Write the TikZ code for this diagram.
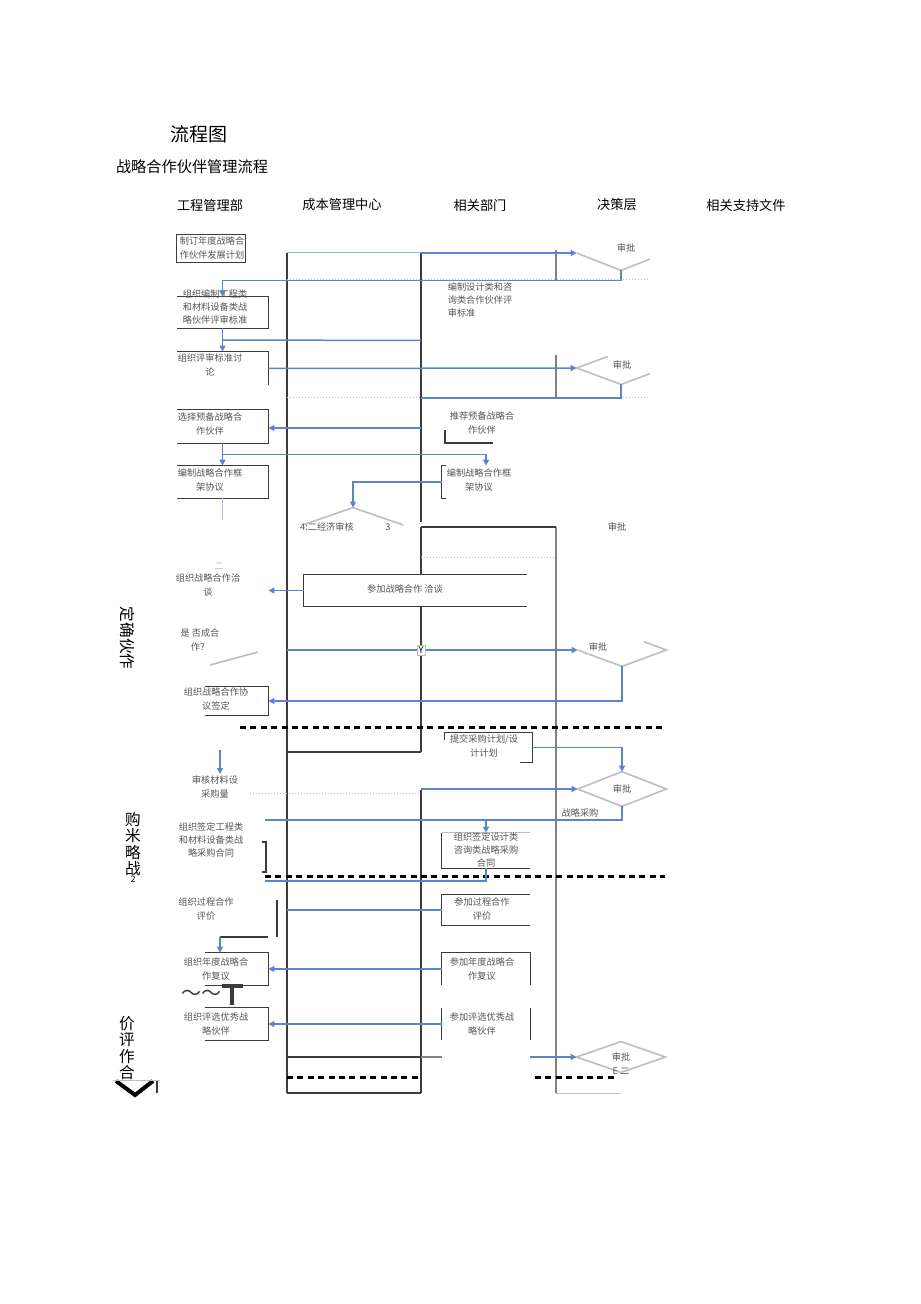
\documentclass[tikz,border=0pt]{standalone}
\usepackage{fontspec}
\setmainfont{Noto Sans CJK SC}
\usetikzlibrary{arrows.meta,shapes.geometric,calc}
\definecolor{fb}{RGB}{92,132,200}
\definecolor{dk}{RGB}{60,60,60}
\definecolor{lg}{RGB}{190,190,190}
\definecolor{tx}{RGB}{85,85,85}
\tikzset{
 lbl/.style={font=\fontsize{4.6}{6.7}\selectfont, text=tx, align=center, inner sep=0pt},
 hdr/.style={font=\fontsize{6.6}{8}\selectfont, inner sep=0pt},
 bx/.style 2 args={rectangle, inner sep=0pt, draw=none, minimum width=#1*0.5pt, minimum height=#2*0.5pt},
 edge/.style={draw=dk, line width=0.6pt},
 lane/.style={draw=dk, line width=0.55pt},
 glane/.style={draw=gray, line width=0.8pt},
 flow/.style={draw=fb, line width=0.75pt, -{Triangle[length=3pt,width=3pt]}},
 fline/.style={draw=fb, line width=0.75pt},
 dia/.style 2 args={diamond, inner sep=0pt, minimum width=#1*0.5pt, minimum height=#2*0.5pt, font=\fontsize{4.6}{6}\selectfont, text=tx},
 dedge/.style={draw=lg, line width=0.8pt},
 bigdash/.style={draw=black, line width=1.5pt, dash pattern=on 3pt off 2.2pt},
 vlab/.style={font=\fontsize{7.8}{8.3}\selectfont, align=center, inner sep=0pt},
 faint/.style={draw=lg, line width=0.5pt},
}
\begin{document}
\begin{tikzpicture}[x=0.5pt,y=-0.5pt]
\useasboundingbox[fill=white] (0,0) rectangle (920,1304);

% titles
\node[font=\fontsize{9.5}{11}\selectfont, inner sep=0pt] (title) at (199,134) {流程图};
\node[font=\fontsize{7.6}{9}\selectfont, inner sep=0pt] (sub) at (192,167) {战略合作伙伴管理流程};
\node[hdr] (h1) at (210,205) {工程管理部};
\node[hdr] (h2) at (342,205) {成本管理中心};
\node[hdr] (h3) at (480,205) {相关部门};
\node[hdr] (h4) at (617,205) {决策层};
\node[hdr] (h5) at (746,205) {相关支持文件};

% lane labels
\node[vlab, rotate=-90] (lv1) at (127,638) {定确伙作};
\node[vlab] (lv2) at (133,844) {购\\米\\略\\战};
\node[font=\fontsize{4.5}{5}\selectfont, inner sep=0pt] (lv2n) at (133,879) {2};
\node[vlab] (lv3) at (127,1048) {价\\评\\作\\合};
\draw[line width=2pt] (116,1081) -- (135,1095) -- (153,1081);
\draw[faint] (113,1080) -- (160,1080);
\draw[lane] (157,1081) -- (157,1093);

% lanes
\draw[lane] (287,253) -- (287,1093);
\draw[lane] (421,253) -- (421,522);
\draw[lane] (421,527) -- (421,575);
\draw[lane] (421,606) -- (421,752);
\draw[lane] (421,790) -- (421,1093);
\draw[lane] (287,1057) -- (421,1057);
\draw[lane] (287,1093) -- (421,1093);
\draw[glane] (556,527) -- (556,1093);
\draw[glane] (556,250) -- (556,280);
\draw[glane] (556,355) -- (556,398);
\draw[draw=fb!60, line width=0.5pt] (287,253) -- (421,253);
\draw[lane] (421,527) -- (556,527);
\draw[faint, densely dotted] (421,557) -- (556,557);
\draw[faint, densely dotted] (287,280) -- (650,280);
\draw[faint, densely dotted] (287,398) -- (650,398);

% thick dashed separators
\draw[bigdash] (240,727) -- (665,727);
\draw[bigdash] (265,876) -- (665,876);
\draw[bigdash] (287,1077) -- (421,1077);
\draw[bigdash] (535,1077) -- (618,1077);
\draw[faint] (556,1093) -- (620,1093);

% left boxes
\node[bx={68}{27}] (L1) at (211,248.5) {};
\draw[edge] (L1.north west) rectangle (L1.south east);
\node[lbl] (t1) at (212,248) {制订年度战略合\\作伙伴发展计划};

\node[bx={91}{31}] (L2) at (222.5,312.5) {};
\draw[edge] (L2.north west) -- (L2.north east) -- (L2.south east) -- (L2.south west);
\node[lbl, align=left] (t2) at (215,307) {组织编制工程类\\和材料设备类战\\略伙伴评审标准};

\node[bx={91}{33}] (L3) at (222.5,368.5) {};
\draw[edge] (L3.north west) -- (L3.north east) -- (L3.south east);
\node[lbl] (t3) at (210,365) {组织评审标准讨\\论};

\node[bx={91}{33}] (L4) at (222.5,426.5) {};
\draw[edge] (L4.north west) -- (L4.north east) -- (L4.south east) -- (L4.south west);
\node[lbl] (t4) at (210,424) {选择预备战略合\\作伙伴};

\node[bx={91}{32}] (L5) at (222.5,482) {};
\draw[edge] (L5.north west) -- (L5.north east) -- (L5.south east) -- (L5.south west);
\node[lbl] (t5) at (210,480) {编制战略合作框\\架协议};

\node[lbl, text=lg] (t6a) at (219,566) {二};
\node[lbl] (t6) at (208,585) {组织战略合作洽\\谈};

\node[lbl] (t7) at (200,640) {是 否成合\\作？};
\draw[dedge] (210,665) -- (258,652);

\node[bx={63}{28}] (L8) at (236.5,701) {};
\draw[edge] (L8.north west) -- (L8.north east) -- (L8.south east) -- (L8.south west);
\node[lbl] (t8) at (216,699) {组织战略合作协\\议签定};

\node[lbl] (t9) at (215,787) {审核材料设\\采购量};
\draw[faint, densely dotted] (250,793) -- (421,793);

\node[lbl] (t10) at (211,840) {组织签定工程类\\和材料设备类战\\略采购合同};
\draw[edge] (262,842) -- (266,842) -- (266,872) -- (262,872);

\node[lbl] (t11) at (206,909) {组织过程合作\\评价};
\draw[edge] (277,900) -- (277,937);
\draw[edge] (220,937) -- (268,937);

\node[bx={63}{32}] (L12) at (236.5,969) {};
\draw[edge] (L12.north west) -- (L12.north east) -- (L12.south east) -- (L12.south west);
\node[lbl] (t12) at (216,969) {组织年度战略合\\作复议};
\node[font=\fontsize{10}{10}\selectfont, text=dk, inner sep=0pt] (tilde) at (201,995) {～～};
\draw[draw=dk, line width=1.6pt] (222,986) -- (243,986);
\draw[draw=dk, line width=1.6pt] (232,986) -- (232,1005);

\node[bx={63}{32}] (L13) at (236.5,1024) {};
\draw[edge] (L13.north west) -- (L13.north east) -- (L13.south east) -- (L13.south west);
\node[lbl] (t13) at (216,1024) {组织评选优秀战\\略伙伴};

% right boxes
\node[lbl, align=left] (r1) at (480,300) {编制设计类和咨\\询类合作伙伴评\\审标准};

\node[lbl] (r2) at (482,423) {推荐预备战略合\\作伙伴};
\draw[edge] (445,430) -- (445,443) -- (493,443);

\node[bx={88}{32}] (R3) at (486,482) {};
\draw[edge] ($(R3.north west)+(4,0)$) -- (R3.north west) -- (R3.south west) -- ++(4,0);
\node[lbl] (r3) at (479,480) {编制战略合作框\\架协议};

\node[bx={223}{31}] (R4) at (415.5,590.5) {};
\draw[edge] (R4.north east) -- (R4.north west) -- (R4.south west) -- (R4.south east);
\node[lbl] (r4) at (405,589) {参加战略合作 洽谈};

\node[bx={87}{29}] (R5) at (488.5,747.5) {};
\draw[edge] ($(R5.north west)+(0,7)$) -- (R5.north west) -- (R5.north east) -- (R5.south east) -- ++(-12,0);
\node[lbl] (r5) at (484,746) {提交采购计划/设\\计计划};

\node[bx={88}{35}] (R6) at (486,850.5) {};
\draw[faint] (R6.north west) -- (R6.north east);
\draw[edge] (R6.north west) -- (R6.south west) -- (R6.south east);
\node[lbl] (r6) at (486,850) {组织签定设计类\\咨询类战略采购\\合同};

\node[bx={88}{30}] (R7) at (486,910) {};
\draw[edge] (R7.north east) -- (R7.north west) -- (R7.south west) -- (R7.south east);
\node[lbl] (r7) at (482,909) {参加过程合作\\评价};

\node[bx={88}{32}] (R8) at (486,969) {};
\draw[edge] (R8.south west) -- (R8.north west) -- (R8.north east) -- (R8.south east);
\node[lbl] (r8) at (482,969) {参加年度战略合\\作复议};

\node[bx={88}{32}] (R9) at (486,1024) {};
\draw[edge] (R9.north west) -- (R9.south west);
\draw[edge] (R9.north east) -- (R9.south east);
\node[lbl] (r9) at (482,1024) {参加评选优秀战\\略伙伴};

% decision nodes
\node[dia={88}{34}] (D1) at (621,253) {};
\draw[dedge] (D1.west) -- (D1.south) -- ($(D1.south)!0.65!(D1.east)$);
\node[lbl] (d1t) at (626,248) {审批};

\node[dia={88}{32}] (D2) at (621,368) {};
\draw[dedge] ($(D2.west)!0.7!(D2.north)$) -- (D2.west) -- (D2.south) -- ($(D2.south)!0.65!(D2.east)$);
\node[lbl] (d2t) at (622,365) {审批};

\node[lbl] (dxt) at (617,527) {审批};

\node[dia={88}{32}] (D3) at (622,650) {};
\draw[dedge] (D3.west) -- (D3.south) -- (D3.east) -- ($(D3.east)!0.5!(D3.north)$);
\node[lbl] (d3t) at (598,647) {审批};

\node[dia={88}{34}] (D4) at (622,789) {审批};
\draw[dedge] (D4.north) -- (D4.east) -- (D4.south) -- (D4.west) -- cycle;

\node[dia={88}{30}] (D5) at (621,1057) {审批};
\draw[dedge] (D5.north) -- (D5.east) -- (D5.south) -- (D5.west) -- cycle;
\node[lbl] (d5e) at (621,1071) {E 二};

\node[dia={100}{34}] (eco) at (353,525) {};
\draw[dedge] (eco.west) -- (eco.north) -- (eco.east);
\node[lbl] (ecot) at (327,527) {4:二经济审核};
\node[lbl] (eco3) at (388,527) {3};

% connectors
\coordinate (k0) at (421,253);
\draw[flow] (k0) -- (D1.west);
\draw[flow] (D1.south) -- ++(0,10) -| (L2.north);
\draw[flow] (L2.south) -- (L3.north);
\coordinate (m23) at ($(L2.south)!0.5!(L3.north)$);
\coordinate (k1) at (421,340.5);
\draw[fline] (m23) -- (k1);
\draw[flow] (L3.east) -- (D2.west);
\coordinate (j1) at (421,398);
\draw[fline] (D2.south) |- (j1);
\coordinate (k2) at (421,428);
\draw[flow] (k2) -- (k2 -| L4.east);
\draw[flow] (L4.south) -- (L5.north);
\coordinate (m45) at ($(L4.south)!0.5!(L5.north)$);
\draw[flow] (m45) -| (R3.north);
\draw[flow] (R3.west) -| (eco.north);
\draw[draw=fb!50, line width=0.6pt] (L5.south) -- ++(0,22);
\draw[flow] (R4.west) -- (R4.west -| L5.east);

\coordinate (y0) at (287,650);
\draw[flow] (y0) -- (D3.west);
\node[draw=lg, fill=white, font=\fontsize{4.6}{5}\selectfont, inner sep=0.8pt] (Y) at (421,650) {Y};
\draw[flow] (D3.south) |- (L8.east);

\coordinate (k3) at (421,752);
\coordinate (k3l) at (287,752);
\draw[lane] (k3) -- (k3l);
\draw[flow] (R5.east) -| (D4.north);
\coordinate (k4) at (220,750);
\draw[flow] (k4) -- ++(0,24);
\coordinate (k5) at (421,789);
\draw[flow] (k5) -- (D4.west);
\coordinate (k6) at (265,820);
\draw[fline] (D4.south) |- (k6);
\draw[flow] (k6 -| R6.north) -- (R6.north);
\node[lbl] (zl) at (580,813) {战略采购};
\coordinate (k7) at (265,881);
\draw[fline] (k7) -| (R6.south);
\coordinate (k8) at (287,910);
\draw[fline] (k8) -- (R7.west);
\coordinate (k9) at (220,937);
\draw[flow] (k9) -- (k9 |- L12.north);
\draw[flow] (R8.west) -- (L12.east);
\draw[flow] (R9.west) -- (L13.east);
\coordinate (k10) at (530,1057);
\draw[flow] (k10) -- (D5.west);
\draw[glane] (421,1057) -- (442,1057);
\end{tikzpicture}
\end{document}
